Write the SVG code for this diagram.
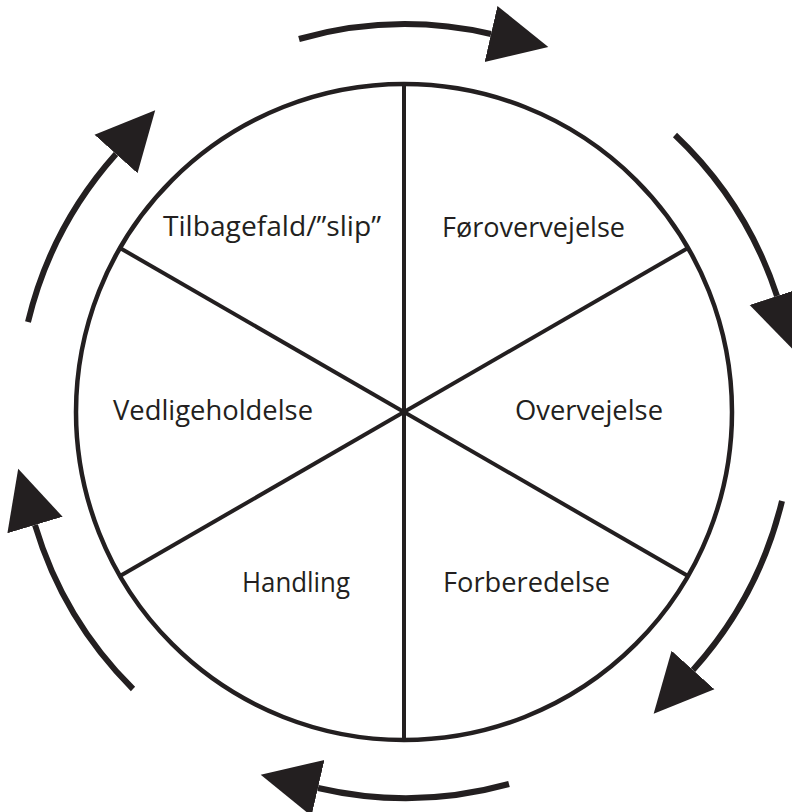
<svg xmlns="http://www.w3.org/2000/svg" width="792" height="812" viewBox="0 0 792 812">
<style>
.ring{fill:none;stroke:#231f20;stroke-width:4.5}
.spoke{stroke:#231f20;stroke-width:4;stroke-linecap:butt}
.shaft{fill:none;stroke:#231f20;stroke-width:6}
.lbl{font-family:"Open Sans","Liberation Sans",sans-serif;font-size:27.5px;fill:#231f20}
</style>
<defs>
<marker id="head" markerUnits="userSpaceOnUse" markerWidth="60" markerHeight="60" viewBox="0 -25 50 50" refX="0" refY="0" orient="auto">
<polygon points="0,-24 49,0 0,24" fill="#231f20"/>
</marker>
</defs>
<rect width="792" height="812" fill="#ffffff"/>
<g id="wheel">
<circle class="ring" cx="404" cy="412" r="328"/>
<line class="spoke" x1="404" y1="84" x2="404" y2="740"/>
<line class="spoke" x1="120" y1="248" x2="688" y2="576"/>
<line class="spoke" x1="120" y1="576" x2="688" y2="248"/>
</g>
<g id="connectors">
<path class="shaft" d="M299,39 A388,388 0 0 1 491,34" marker-end="url(#head)"/>
<path class="shaft" d="M675,135 A388,388 0 0 1 777,296" marker-end="url(#head)"/>
<path class="shaft" d="M782,501 A388,388 0 0 1 693,670" marker-end="url(#head)"/>
<path class="shaft" d="M509,784 A388,388 0 0 1 318,788" marker-end="url(#head)"/>
<path class="shaft" d="M133,689 A388,388 0 0 1 35,525" marker-end="url(#head)"/>
<path class="shaft" d="M28,322 A388,388 0 0 1 116,154" marker-end="url(#head)"/>
</g>
<g id="node-tilbagefald"><text class="lbl" x="163" y="236" textLength="218" lengthAdjust="spacingAndGlyphs">Tilbagefald/”slip”</text></g>
<g id="node-forovervejelse"><text class="lbl" x="442" y="237" textLength="183" lengthAdjust="spacingAndGlyphs">Førovervejelse</text></g>
<g id="node-vedligeholdelse"><text class="lbl" x="113" y="420" textLength="200" lengthAdjust="spacingAndGlyphs">Vedligeholdelse</text></g>
<g id="node-overvejelse"><text class="lbl" x="515" y="420" textLength="148" lengthAdjust="spacingAndGlyphs">Overvejelse</text></g>
<g id="node-handling"><text class="lbl" x="242" y="592" textLength="108" lengthAdjust="spacingAndGlyphs">Handling</text></g>
<g id="node-forberedelse"><text class="lbl" x="443" y="592" textLength="167" lengthAdjust="spacingAndGlyphs">Forberedelse</text></g>
</svg>
